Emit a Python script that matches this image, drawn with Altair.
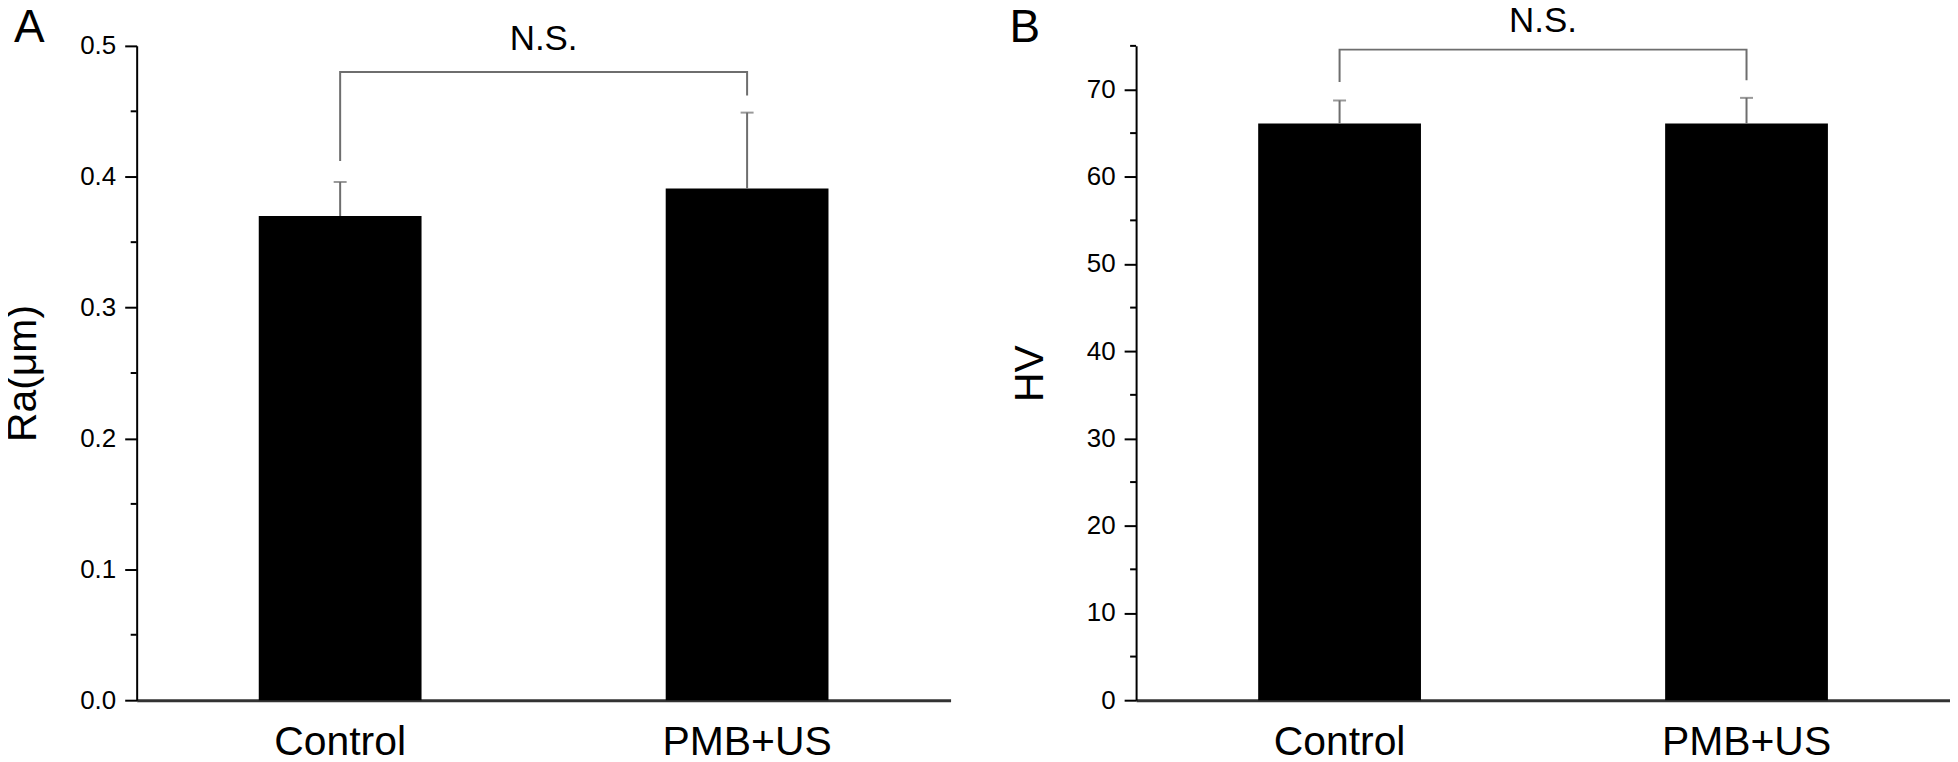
import altair as alt
import pandas as pd

# ---------------- data ----------------
groups = ["Control", "PMB+US"]

ra_mean = [0.370, 0.391]
ra_err = [0.026, 0.058]
hv_mean = [66.1, 66.1]
hv_err = [2.64, 2.94]

ra_ticks = [0.0, 0.1, 0.2, 0.3, 0.4, 0.5]
ra_minor = [0.05, 0.15, 0.25, 0.35, 0.45]
hv_ticks = [0, 10, 20, 30, 40, 50, 60, 70]
hv_minor = [5, 15, 25, 35, 45, 55, 65, 75]

bracket_x = ["Control", "Control", "PMB+US", "PMB+US"]
ra_bracket = [0.412, 0.480, 0.480, 0.462]
hv_bracket = [70.87, 74.57, 74.57, 71.06]
ra_ns_y = 0.505
hv_ns_y = 77.8

FONT = "Liberation Sans"
W, H = 816, 656
GREY = "#6e6e6e"


def panel(letter, letter_x, title, means, errs, domain, ticks, minor, fmt, bracket, ns_y):
    bars = pd.DataFrame({
        "group": groups,
        "mean": means,
        "top": [m + e for m, e in zip(means, errs)],
    })
    xscale = alt.Scale(domain=groups, paddingInner=0.6, paddingOuter=0.3)
    yscale = alt.Scale(domain=domain, nice=False, zero=True)

    x_axis = alt.X(
        "group:N", sort=groups, scale=xscale,
        axis=alt.Axis(title=None, labelAngle=0, labelFont=FONT, labelFontSize=41,
                      labelColor="black", labelPadding=22, ticks=False, tickSize=0,
                      domainColor="#333333", domainWidth=3),
    )
    x_plain = alt.X("group:N", sort=groups, scale=xscale, title=None)

    y_axis = alt.Y(
        "mean:Q", scale=yscale,
        axis=alt.Axis(title=title, titleFont=FONT, titleFontSize=41,
                      titleFontWeight="normal", titleColor="black", titlePadding=35,
                      values=ticks, format=fmt, labelFont=FONT, labelFontSize=26,
                      labelColor="black", labelPadding=9, labelFlush=False,
                      labelOverlap=False, tickSize=12, tickWidth=2, tickColor="black",
                      domainColor="black", domainWidth=2, grid=False),
    )

    bar_layer = alt.Chart(bars).mark_bar(color="black").encode(x=x_axis, y=y_axis)

    err_rule = alt.Chart(bars).mark_rule(color=GREY, strokeWidth=2).encode(
        x=x_plain,
        y=alt.Y("mean:Q", scale=yscale, title=title),
        y2="top:Q",
    )
    err_cap = alt.Chart(bars).mark_tick(
        color=GREY, thickness=2, size=13, orient="horizontal"
    ).encode(x=x_plain, y=alt.Y("top:Q", scale=yscale, title=title))

    minor_df = pd.DataFrame({"v": minor})
    minor_layer = alt.Chart(minor_df).mark_rule(color="black", strokeWidth=2).encode(
        y=alt.Y("v:Q", scale=yscale, title=title),
        x=alt.value(-6), x2=alt.value(0),
    )

    br_df = pd.DataFrame({"group": bracket_x, "v": bracket, "i": [0, 1, 2, 3]})
    br_layer = alt.Chart(br_df).mark_line(color=GREY, strokeWidth=2).encode(
        x=x_plain, y=alt.Y("v:Q", scale=yscale, title=title), order="i:Q"
    )

    ns_df = pd.DataFrame({"v": [ns_y], "t": ["N.S."]})
    ns_layer = alt.Chart(ns_df).mark_text(
        font=FONT, fontSize=35, color="black", baseline="middle", align="center"
    ).encode(x=alt.value(W / 2), y=alt.Y("v:Q", scale=yscale, title=title), text="t:N")

    lt_df = pd.DataFrame({"t": [letter]})
    lt_layer = alt.Chart(lt_df).mark_text(
        font=FONT, fontSize=46, color="black", baseline="alphabetic", align="left"
    ).encode(x=alt.value(letter_x), y=alt.value(-4), text="t:N")

    return alt.layer(bar_layer, err_rule, err_cap, minor_layer, br_layer, ns_layer,
                     lt_layer).properties(width=W, height=H)


left = panel("A", -123, "Ra(μm)", ra_mean, ra_err, [0, 0.5], ra_ticks, ra_minor, ".1f",
             ra_bracket, ra_ns_y)
right = panel("B", -127, "HV", hv_mean, hv_err, [0, 75], hv_ticks, hv_minor, "d",
              hv_bracket, hv_ns_y)

chart = alt.hconcat(left, right, spacing=186, bounds="flush").properties(
    padding={"left": -6, "top": -5, "right": 0, "bottom": 0},
    background="white",
).configure_view(stroke=None)

chart.save("out.html", embed_options={"renderer": "svg", "actions": False})
